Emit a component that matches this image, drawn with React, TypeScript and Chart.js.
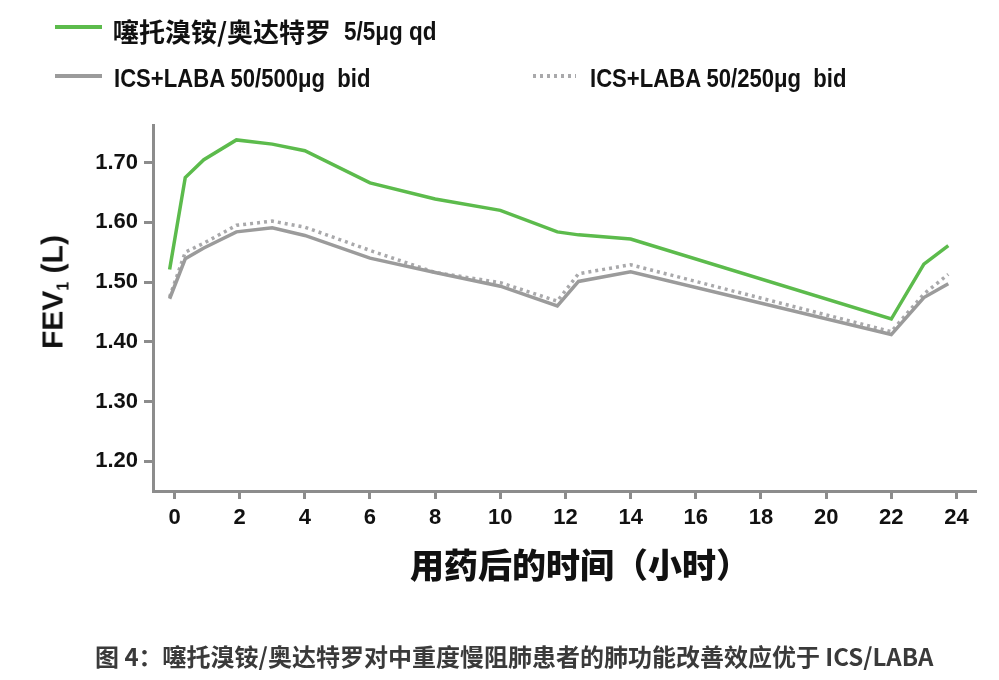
import React, { useEffect, useRef } from "react";
import { Chart, registerables } from "chart.js";

Chart.register(...registerables);

// Hours after dosing
const hours = [-0.15, 0.33, 0.9, 1.9, 3, 4, 6, 8, 10, 11.75, 12.4, 14, 22, 23, 23.75];
// FEV1 (L)
const tiotropiumOlodaterol = [1.521, 1.675, 1.705, 1.738, 1.731, 1.72, 1.666, 1.639, 1.62, 1.584, 1.579, 1.572, 1.438, 1.53, 1.561];
const ics500 = [1.472, 1.539, 1.557, 1.584, 1.591, 1.578, 1.54, 1.516, 1.493, 1.46, 1.501, 1.517, 1.412, 1.474, 1.497];
const ics250 = [1.475, 1.55, 1.565, 1.595, 1.602, 1.592, 1.553, 1.516, 1.499, 1.468, 1.514, 1.529, 1.417, 1.48, 1.513];

const xTickValues = [0, 2, 4, 6, 8, 10, 12, 14, 16, 18, 20, 22, 24];
const yTickValues = [1.2, 1.3, 1.4, 1.5, 1.6, 1.7];

const seriesNames = ["噻托溴铵/奥达特罗", "ICS+LABA 50/500μg  bid", "ICS+LABA 50/250μg  bid"];
const seriesDose = "5/5μg qd";
const xAxisTitle = "用药后的时间（小时）";
const yAxisTitleMain = "FEV";
const yAxisTitleSub = "1";
const yAxisTitleUnit = " (L)";
const caption = "图 4：噻托溴铵/奥达特罗对中重度慢阻肺患者的肺功能改善效应优于 ICS/LABA";

const GREEN = "#5cbb4c";
const GRAY = "#9b9b9b";
const DOT = "#a9a9ab";
const AXIS = "#8c8c8c";
const LATIN = "'Liberation Sans', Arial, sans-serif";
const CJK = "'Noto Sans CJK SC', 'Noto Sans', sans-serif";

export default function App() {
  const ref = useRef<HTMLCanvasElement | null>(null);

  useEffect(() => {
    const canvas = ref.current;
    if (!canvas) return;
    const toXY = (arr: number[]) => hours.map((h, i) => ({ x: h, y: arr[i] }));
    const tickFont = { family: LATIN, size: 22, weight: "bold" as const };
    const chart = new Chart(canvas, {
      type: "line",
      data: {
        datasets: [
          {
            label: seriesNames[1],
            data: toXY(ics500),
            borderColor: GRAY,
            borderWidth: 3.5,
            pointRadius: 0,
            tension: 0,
            fill: false,
          },
          {
            label: seriesNames[2],
            data: toXY(ics250),
            borderColor: DOT,
            borderWidth: 3.5,
            borderDash: [3, 4],
            pointRadius: 0,
            tension: 0,
            fill: false,
          },
          {
            label: seriesNames[0],
            data: toXY(tiotropiumOlodaterol),
            borderColor: GREEN,
            borderWidth: 3.5,
            pointRadius: 0,
            tension: 0,
            fill: false,
          },
        ],
      },
      options: {
        animation: false,
        responsive: false,
        devicePixelRatio: 1,
        layout: { padding: { top: 125, right: 23, left: 0, bottom: 0 } },
        plugins: { legend: { display: false }, tooltip: { enabled: false } },
        scales: {
          x: {
            type: "linear",
            min: -0.66,
            max: 24.6,
            afterFit: (s: any) => {
              s.height = 189;
            },
            afterBuildTicks: (s: any) => {
              s.ticks = xTickValues.map((v) => ({ value: v }));
            },
            grid: {
              drawOnChartArea: false,
              drawTicks: true,
              tickLength: 8,
              tickWidth: 3,
              tickColor: AXIS,
            },
            border: { color: AXIS, width: 3 },
            ticks: {
              font: tickFont,
              color: "#111",
              padding: 6,
              maxRotation: 0,
              autoSkip: false,
              callback: (v: any) => String(v),
            },
          },
          y: {
            type: "linear",
            min: 1.15,
            max: 1.763,
            afterFit: (s: any) => {
              s.width = 153;
            },
            afterBuildTicks: (s: any) => {
              s.ticks = yTickValues.map((v) => ({ value: v }));
            },
            grid: {
              drawOnChartArea: false,
              drawTicks: true,
              tickLength: 9,
              tickWidth: 3,
              tickColor: AXIS,
            },
            border: { color: AXIS, width: 3 },
            ticks: {
              font: tickFont,
              color: "#111",
              padding: 6,
              autoSkip: false,
              callback: (v: any) => Number(v).toFixed(2),
            },
          },
        },
      },
    });
    return () => chart.destroy();
  }, []);

  const legendText: React.CSSProperties = {
    position: "absolute",
    fontFamily: LATIN,
    fontWeight: "bold",
    fontSize: 26,
    color: "#111",
    whiteSpace: "pre",
    lineHeight: "30px",
    transform: "scaleX(0.85)",
    transformOrigin: "0 50%",
  };

  return (
    <div
      style={{
        position: "fixed",
        left: 0,
        top: 0,
        width: 999,
        height: 680,
        background: "#fff",
        overflow: "hidden",
      }}
    >
      <canvas ref={ref} width={999} height={680} style={{ position: "absolute", left: 0, top: 0, width: 999, height: 680, display: "block" }} />

      {/* legend */}
      <div style={{ position: "absolute", left: 55, top: 25, width: 47, height: 3.5, background: GREEN }} />
      <div
        style={{
          position: "absolute",
          left: 113,
          top: 15,
          fontFamily: CJK,
          fontWeight: "bold",
          fontSize: 26,
          letterSpacing: 0,
          color: "#111",
          whiteSpace: "pre",
          lineHeight: "32px",
        }}
      >
        {seriesNames[0]}
      </div>
      <div style={{ ...legendText, left: 344, top: 16, fontSize: 25, transform: "scaleX(0.9)" }}>{seriesDose}</div>
      <div style={{ position: "absolute", left: 55, top: 74, width: 47, height: 3.5, background: GRAY }} />
      <div style={{ ...legendText, left: 114, top: 63 }}>{seriesNames[1]}</div>
      <div
        style={{
          position: "absolute",
          left: 533,
          top: 74,
          width: 43,
          height: 3.5,
          background: `repeating-linear-gradient(90deg, ${DOT} 0px, ${DOT} 3px, transparent 3px, transparent 7px)`,
        }}
      />
      <div style={{ ...legendText, left: 590, top: 63 }}>{seriesNames[2]}</div>

      {/* y axis title */}
      <div
        style={{
          position: "absolute",
          left: 58,
          top: 292,
          transform: "translate(-50%, -50%) rotate(-90deg)",
          fontFamily: LATIN,
          fontWeight: "bold",
          fontSize: 30,
          color: "#111",
          whiteSpace: "pre",
          lineHeight: "34px",
        }}
      >
        {yAxisTitleMain}
        <span style={{ fontSize: 16, verticalAlign: "-6px" }}>{yAxisTitleSub}</span>
        {yAxisTitleUnit}
      </div>

      {/* x axis title */}
      <div
        style={{
          position: "absolute",
          left: 580,
          top: 564,
          transform: "translate(-50%, -50%)",
          fontFamily: CJK,
          fontWeight: 900,
          fontSize: 34,
          color: "#111",
          whiteSpace: "pre",
          lineHeight: "40px",
        }}
      >
        {xAxisTitle}
      </div>

      {/* caption */}
      <div
        style={{
          position: "absolute",
          left: 95,
          top: 656,
          transform: "translate(0, -50%)",
          fontFamily: CJK,
          fontWeight: "bold",
          fontSize: 24,
          color: "#3a3a3a",
          whiteSpace: "pre",
          lineHeight: "30px",
        }}
      >
        {caption}
      </div>
    </div>
  );
}
